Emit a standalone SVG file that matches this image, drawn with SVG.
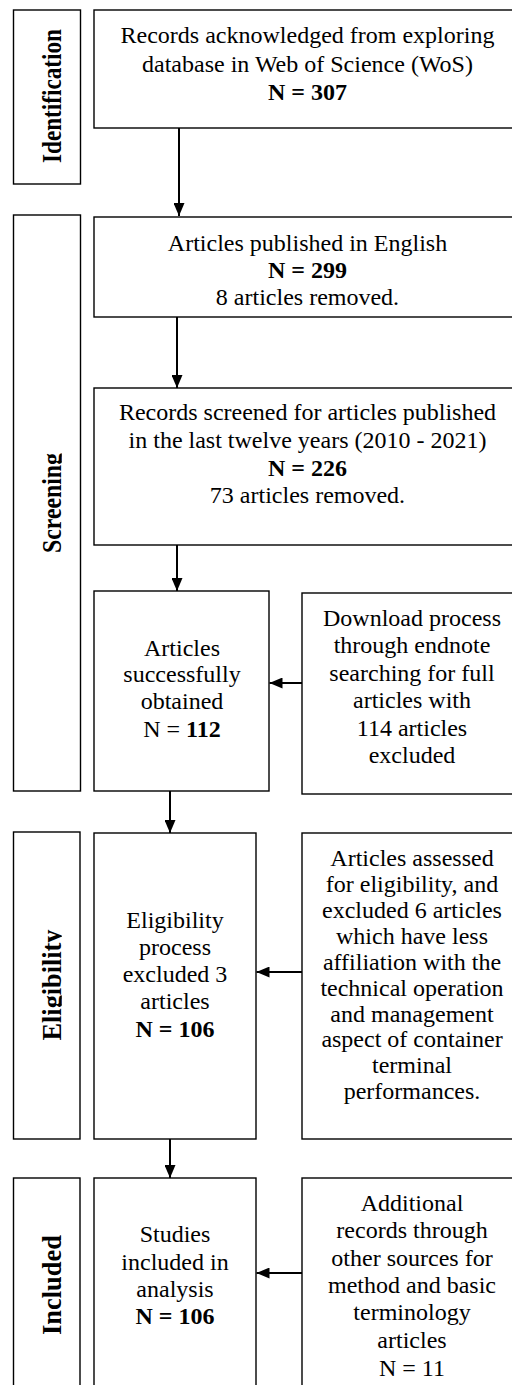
<svg xmlns="http://www.w3.org/2000/svg" width="512" height="1385" viewBox="0 0 512 1385">
<style>
.box{fill:#fff;stroke:#000;stroke-width:1.4}
.lbl{fill:#fff;stroke:#000;stroke-width:1.4}
.t{font-family:"Liberation Serif","Times New Roman",serif;font-size:24px;fill:#000;text-anchor:middle}
.b{font-weight:bold}
.side{font-family:"Liberation Serif","Times New Roman",serif;font-size:28px;font-weight:bold;fill:#000;text-anchor:middle}
.arr{stroke:#000;stroke-width:2;fill:none;marker-end:url(#ah)}
</style>
<defs>
<marker id="ah" viewBox="0 0 13 11" refX="13" refY="5.5" markerWidth="13" markerHeight="11" markerUnits="userSpaceOnUse" orient="auto">
<path d="M0,0 L13,5.5 L0,11 Z" fill="#000"/>
</marker>
<clipPath id="lc" clipPathUnits="userSpaceOnUse"><rect x="0" y="0" width="61.8" height="1385"/></clipPath>
</defs>
<rect width="512" height="1385" fill="#fff"/>

<g id="label-identification">
<rect class="lbl" x="13.5" y="10" width="67" height="174"/>
<g clip-path="url(#lc)"><text class="side" transform="translate(61,96) rotate(-90)" textLength="134" lengthAdjust="spacingAndGlyphs">Identification</text></g>
</g>
<g id="label-screening">
<rect class="lbl" x="13.5" y="215" width="67" height="576"/>
<g clip-path="url(#lc)"><text class="side" transform="translate(61,503) rotate(-90)" textLength="100" lengthAdjust="spacingAndGlyphs">Screening</text></g>
</g>
<g id="label-eligibility">
<rect class="lbl" x="13.5" y="832" width="66.5" height="307"/>
<g clip-path="url(#lc)"><text class="side" transform="translate(61,985) rotate(-90)" textLength="111" lengthAdjust="spacingAndGlyphs">Eligibility</text></g>
</g>
<g id="label-included">
<rect class="lbl" x="13.5" y="1178" width="66.5" height="230"/>
<g clip-path="url(#lc)"><text class="side" transform="translate(61,1285) rotate(-90)" textLength="100" lengthAdjust="spacingAndGlyphs">Included</text></g>
</g>

<g id="records-wos">
<rect class="box" x="94" y="10" width="427" height="118"/>
<text class="t" x="307.5" y="43">Records acknowledged from exploring</text>
<text class="t" x="307.5" y="72">database in Web of Science (WoS)</text>
<text class="t b" x="307.5" y="100">N = 307</text>
</g>

<g id="english">
<rect class="box" x="94" y="217" width="427" height="100"/>
<text class="t" x="307.5" y="251">Articles published in English</text>
<text class="t b" x="307.5" y="278">N = 299</text>
<text class="t" x="307.5" y="305">8 articles removed.</text>
</g>

<g id="twelve-years">
<rect class="box" x="94" y="388" width="427" height="157"/>
<text class="t" x="307.5" y="420">Records screened for articles published</text>
<text class="t" x="307.5" y="448">in the last twelve years (2010 - 2021)</text>
<text class="t b" x="307.5" y="476">N = 226</text>
<text class="t" x="307.5" y="503">73 articles removed.</text>
</g>

<g id="obtained">
<rect class="box" x="94" y="591" width="175" height="200"/>
<text class="t" x="182" y="656">Articles</text>
<text class="t" x="182" y="682">successfully</text>
<text class="t" x="182" y="709">obtained</text>
<text class="t" x="182" y="737">N = <tspan class="b">112</tspan></text>
</g>

<g id="download">
<rect class="box" x="302" y="593" width="220" height="201"/>
<text class="t" x="412" y="626">Download process</text>
<text class="t" x="412" y="653">through endnote</text>
<text class="t" x="412" y="681">searching for full</text>
<text class="t" x="412" y="708">articles with</text>
<text class="t" x="412" y="736">114 articles</text>
<text class="t" x="412" y="763">excluded</text>
</g>

<g id="eligibility-process">
<rect class="box" x="94" y="833" width="162" height="306"/>
<text class="t" x="175" y="928">Eligibility</text>
<text class="t" x="175" y="955">process</text>
<text class="t" x="175" y="982">excluded 3</text>
<text class="t" x="175" y="1009">articles</text>
<text class="t b" x="175" y="1037">N = 106</text>
</g>

<g id="assessed">
<rect class="box" x="302" y="833" width="220" height="306"/>
<text class="t" x="412" y="866">Articles assessed</text>
<text class="t" x="412" y="892">for eligibility, and</text>
<text class="t" x="412" y="918">excluded 6 articles</text>
<text class="t" x="412" y="944">which have less</text>
<text class="t" x="412" y="970">affiliation with the</text>
<text class="t" x="412" y="996">technical operation</text>
<text class="t" x="412" y="1022">and management</text>
<text class="t" x="412" y="1047">aspect of container</text>
<text class="t" x="412" y="1073">terminal</text>
<text class="t" x="412" y="1099">performances.</text>
</g>

<g id="studies-included">
<rect class="box" x="94" y="1178" width="162" height="230"/>
<text class="t" x="175" y="1242">Studies</text>
<text class="t" x="175" y="1270">included in</text>
<text class="t" x="175" y="1297">analysis</text>
<text class="t b" x="175" y="1324">N = 106</text>
</g>

<g id="additional">
<rect class="box" x="302" y="1178" width="220" height="230"/>
<text class="t" x="412" y="1211">Additional</text>
<text class="t" x="412" y="1238">records through</text>
<text class="t" x="412" y="1266">other sources for</text>
<text class="t" x="412" y="1293">method and basic</text>
<text class="t" x="412" y="1320">terminology</text>
<text class="t" x="412" y="1348">articles</text>
<text class="t" x="412" y="1376">N = 11</text>
</g>

<g id="connectors">
<line class="arr" x1="179" y1="128" x2="179" y2="216"/>
<line class="arr" x1="177" y1="317" x2="177" y2="388"/>
<line class="arr" x1="177" y1="545" x2="177" y2="591"/>
<line class="arr" x1="170" y1="791" x2="170" y2="833"/>
<line class="arr" x1="170" y1="1139" x2="170" y2="1178"/>
<line class="arr" x1="302" y1="683" x2="269.5" y2="683"/>
<line class="arr" x1="302" y1="972" x2="256.5" y2="972"/>
<line class="arr" x1="302" y1="1273" x2="256.5" y2="1273"/>
</g>
</svg>
